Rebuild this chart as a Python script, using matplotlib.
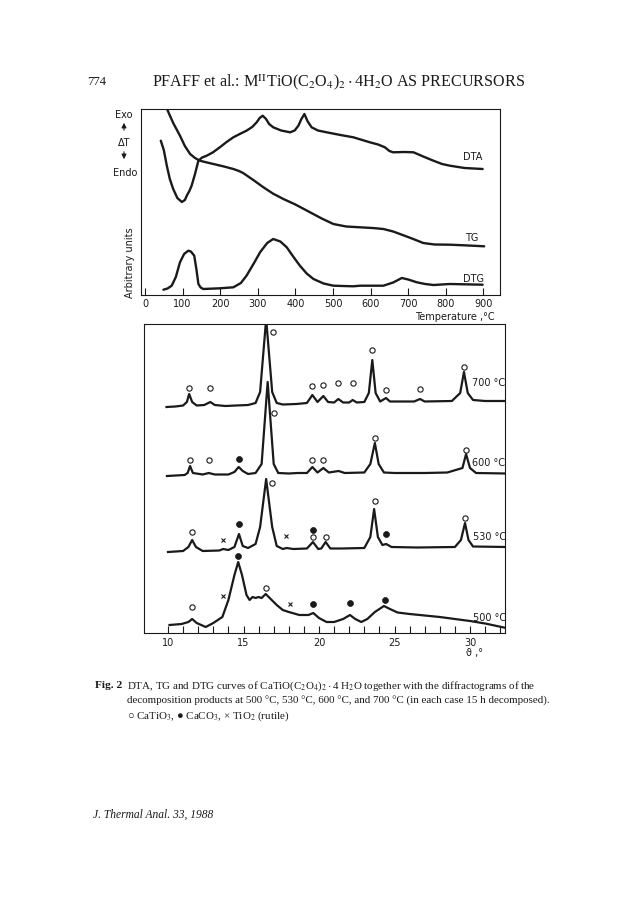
import matplotlib
matplotlib.use("Agg")
import matplotlib.pyplot as plt
import numpy as np

plt.rcParams['mathtext.fontset'] = 'stix'
SERIF = ['Liberation Serif', 'DejaVu Serif']
SANS = ['DejaVu Sans']
INK = '#1a1a1a'

# ---------------- thermal analysis data (T in degC, arbitrary units) -------------
dta_T = [42, 50, 58, 66, 75, 86, 98, 106, 112, 118, 124, 133, 142, 152, 164, 180, 199, 217, 235,
         252, 270, 285, 297, 305, 313, 322, 330, 341, 362, 386, 398, 408, 416, 424, 432, 443, 460,
         483, 520, 554, 598, 620, 638, 650, 660, 690, 714, 740, 767, 790, 811, 850, 898]
dta_y = [154.3, 145, 129.3, 116, 106, 97, 93, 95, 100, 104, 109.3, 121, 134.3, 137.5, 139.3, 142.5,
         147.7, 153, 157.7, 161, 164.3, 168, 172.7, 177, 179.3, 176, 171, 167.7, 164.5, 162.7, 164.5,
         169.3, 176, 181, 174, 167.7, 164.5, 162.7, 160, 157.7, 152.7, 150.5, 147.7, 144, 142.7, 143,
         142.7, 138.5, 134.3, 131, 129.3, 127, 126]

tg_T = [55, 62, 75, 93, 106, 120, 133, 146, 165, 182, 210, 235, 250, 261, 288, 315, 340, 368, 400,
        439, 470, 501, 535, 572, 605, 634, 660, 678, 710, 740, 770, 811, 860, 902]
tg_y = [190, 183, 172, 159.3, 149, 141, 137, 134.3, 132.5, 131, 128.5, 126, 124, 122, 115, 107.7,
        101.5, 96, 90.5, 82.7, 76.5, 71, 68.5, 67.7, 67, 66, 63.5, 61, 56.5, 52, 50.5, 50.3, 49.5, 48.7]

dtg_T = [49, 60, 71, 82, 93, 104, 115, 122, 131, 137, 142, 148, 155, 199, 235, 255, 270, 290, 306,
         325, 341, 360, 377, 395, 412, 430, 448, 475, 501, 554, 572, 634, 660, 683, 700, 723, 745,
         767, 811, 898]
dtg_y = [5.3, 6.5, 9.3, 18, 32.7, 41, 44.3, 43.5, 39.3, 25, 11, 7.5, 6, 6.7, 7.7, 12, 19.3, 32, 42.7,
         52, 56, 53.5, 47.7, 38, 29.3, 21.5, 16, 11.5, 9.3, 8.7, 9.3, 9.3, 12.5, 17, 15.5, 12.7, 11,
         10, 11, 10.3]

temp_ticks = [0, 100, 200, 300, 400, 500, 600, 700, 800, 900]

# ---------------- X-ray diffractograms (theta in deg, intensity above baseline) ----
x700_th = [9.9, 10.5, 11.0, 11.25, 11.4, 11.6, 11.9, 12.4, 12.8, 13.1, 13.8, 14.5, 15.3, 15.8,
           16.1, 16.5, 16.9, 17.2, 17.6, 18.5, 19.2, 19.56, 19.9, 20.29, 20.6, 21.0, 21.28, 21.6,
           22.0, 22.23, 22.5, 23.0, 23.3, 23.53, 23.75, 24.05, 24.44, 24.7, 26.3, 26.69, 27.0, 28.8,
           29.35, 29.6, 29.85, 30.2, 31.0, 32.4]
x700_in = [0, 0.5, 1.5, 5, 13, 5, 1.5, 2, 5, 2, 1, 1.5, 2, 4, 15, 88, 15, 4, 2.5, 3, 4, 12, 5, 11,
           5, 4.5, 8, 4.5, 4.5, 7, 4.5, 5, 14, 47, 14, 5.5, 9, 5.5, 5.5, 8, 5.5, 6, 14, 35, 14, 7, 6, 6]
m700 = [(11.4, 19, 'o'), (12.8, 19, 'o'), (16.98, 75, 'o'), (19.56, 21, 'o'), (20.29, 22, 'o'),
        (21.28, 24, 'o'), (22.23, 24, 'o'), (23.53, 57, 'o'), (24.44, 17, 'o'), (26.69, 18, 'o'),
        (29.6, 40, 'o')]

x600_th = [9.93, 11.1, 11.3, 11.46, 11.65, 12.3, 12.7, 13.1, 14.0, 14.4, 14.68, 14.95, 15.3, 15.8,
           16.2, 16.6, 17.0, 17.3, 18.0, 18.6, 19.2, 19.56, 19.9, 20.29, 20.65, 21.3, 21.7, 23.0,
           23.4, 23.7, 23.95, 24.3, 25.0, 27.0, 28.5, 29.5, 29.74, 30.0, 30.4, 32.4]
x600_in = [0, 1, 3, 10, 3, 1.5, 3, 1.5, 1.5, 4, 9, 5, 2, 3, 12, 94, 12, 3, 2.5, 3, 3, 9, 3.5, 8,
           3.5, 5, 3, 3.5, 12, 33, 12, 3.5, 3, 3, 3.5, 8, 22, 8, 3, 2.5]
m600 = [(11.46, 16, 'o'), (12.7, 16, 'o'), (14.68, 17, 'f'), (17.04, 63, 'o'), (19.56, 16, 'o'),
        (20.29, 16, 'o'), (23.7, 38, 'o'), (29.74, 26, 'o')]

x530_th = [10.0, 11.0, 11.35, 11.6, 11.85, 12.3, 13.4, 13.65, 14.0, 14.4, 14.7, 14.95, 15.3, 15.8,
           16.1, 16.5, 16.9, 17.2, 17.6, 17.85, 18.3, 19.2, 19.6, 19.95, 20.15, 20.44, 20.75, 21.5,
           23.0, 23.4, 23.65, 23.9, 24.2, 24.45, 24.8, 26.5, 29.0, 29.4, 29.67, 29.9, 30.2, 32.4]
x530_in = [0, 1, 5, 12, 5, 1, 1.5, 3, 2, 5, 18, 6, 4, 8, 25, 73, 25, 6, 3, 4, 3, 3.5, 10, 3, 3.5,
           10, 3.5, 3.5, 4, 15, 43, 15, 7, 8, 5, 4.5, 5, 12, 29, 12, 5.5, 5]
m530 = [(11.6, 20, 'o'), (13.66, 12, 'x'), (14.7, 28, 'f'), (16.9, 69, 'o'), (17.8, 16, 'x'),
        (19.6, 22, 'f'), (19.6, 15, 'o'), (20.44, 15, 'o'), (23.7, 51, 'o'), (24.44, 18, 'f'),
        (29.67, 34, 'o')]

x500_th = [10.1, 10.9, 11.35, 11.6, 11.9, 12.5, 13.0, 13.2, 13.6, 14.0, 14.4, 14.65, 14.9, 15.2,
           15.4, 15.6, 15.8, 16.0, 16.2, 16.47, 16.8, 17.2, 17.6, 18.0, 18.7, 19.3, 19.62, 20.0,
           20.5, 21.0, 21.6, 22.05, 22.4, 22.8, 23.2, 23.7, 24.3, 24.7, 25.2, 26.0, 27.0, 28.0,
           29.0, 30.0, 31.0, 32.4]
x500_in = [0, 1, 3, 6, 2, -2, 2, 4, 8, 25, 50, 63, 50, 30, 25, 28, 27, 28, 27, 31, 26, 20, 15, 13,
           10, 10, 12, 7, 3, 3, 6, 10, 6, 3, 6, 13, 19, 16, 12.5, 11, 9.5, 8, 6, 4, 1.5, -3]
m500 = [(11.6, 18, 'o'), (13.66, 29, 'x'), (14.66, 69, 'f'), (16.47, 37, 'o'), (18.08, 21, 'x'),
        (19.62, 21, 'f'), (22.05, 22, 'f'), (24.37, 25, 'f')]

theta_major = [10, 15, 20, 25, 30]
theta_minor = list(range(10, 33))

# ------------------------------------------------------------------------------------
W, H = 643, 903
fig = plt.figure(figsize=(W / 100, H / 100), dpi=100)
fig.patch.set_facecolor('white')


def fx(x):
    return x / W


def fy(y):
    return 1 - y / H


def axes_px(left, top, right, bottom):
    return fig.add_axes([fx(left), fy(bottom), (right - left) / W, (bottom - top) / H])


# header
fig.text(fx(97), fy(82), "774", family=SERIF, fontsize=9, ha='center', va='center', color=INK)
fig.text(fx(339), fy(82),
         r"PFAFF et al.: M$^{\mathrm{II}}$TiO(C$_2$O$_4$)$_2\cdot$4H$_2$O AS PRECURSORS",
         family=SERIF, fontsize=11.6, ha='center', va='center', color=INK)

# ---------------- top panel ----------------
ax1 = axes_px(141, 110, 500, 296)
ax1.plot(dta_T, dta_y, color=INK, lw=1.7, solid_capstyle='round')
ax1.plot(tg_T, tg_y, color=INK, lw=1.7, solid_capstyle='round')
ax1.plot(dtg_T, dtg_y, color=INK, lw=1.7, solid_capstyle='round')
ax1.set_xlim((141 - 145) / 0.376, (500 - 145) / 0.376)
ax1.set_ylim(0, 186)
ax1.set_xticks(temp_ticks)
ax1.set_xticklabels([str(t) for t in temp_ticks])
ax1.set_yticks([])
ax1.tick_params(axis='x', direction='in', length=5, width=0.8, pad=2, labelsize=7,
                colors=INK)
for s in ax1.spines.values():
    s.set_linewidth(0.8)
    s.set_color(INK)
ax1.text(846, 296 - 157, "DTA", fontsize=7, family=SANS, va='center', ha='left', color=INK)
ax1.text(851, 296 - 238, "TG", fontsize=7, family=SANS, va='center', ha='left', color=INK)
ax1.text(846, 296 - 279, "DTG", fontsize=7, family=SANS, va='center', ha='left', color=INK)

fig.text(fx(455), fy(317), "Temperature ,°C", fontsize=7, family=SANS, ha='center', va='center',
         color=INK)
fig.text(fx(130), fy(263), "Arbitrary units", fontsize=7, family=SANS, ha='center', va='center',
         rotation=90, color=INK)
fig.text(fx(124), fy(115.5), "Exo", fontsize=7, family=SANS, ha='center', va='center', color=INK)
fig.text(fx(124), fy(143), "ΔT", fontsize=7, family=SANS, ha='center', va='center', color=INK)
fig.text(fx(125), fy(173), "Endo", fontsize=7, family=SANS, ha='center', va='center', color=INK)
fig.add_artist(matplotlib.patches.FancyArrowPatch((fx(124), fy(134)), (fx(124), fy(121)),
                                                  transform=fig.transFigure, arrowstyle='-|>',
                                                  mutation_scale=7, lw=0.8, color=INK))
fig.add_artist(matplotlib.patches.FancyArrowPatch((fx(124), fy(150)), (fx(124), fy(163)),
                                                  transform=fig.transFigure, arrowstyle='-|>',
                                                  mutation_scale=7, lw=0.8, color=INK))

# ---------------- XRD panel ----------------
ax2 = axes_px(144, 325, 505, 634)
ax2.set_xlim(10 + (144 - 168) / 15.1, 10 + (505 - 168) / 15.1)
ax2.set_ylim(0, 309)
offsets = {'700': 226, '600': 157, '530': 81, '500': 8}
traces = [('700', x700_th, x700_in, m700), ('600', x600_th, x600_in, m600),
          ('530', x530_th, x530_in, m530), ('500', x500_th, x500_in, m500)]
for key, th, inten, marks in traces:
    off = offsets[key]
    ax2.plot(th, np.array(inten) + off, color=INK, lw=1.6, solid_joinstyle='round')
    for t, h, kind in marks:
        if kind == 'o':
            ax2.plot(t, h + off, marker='o', ms=3.8, mfc='white', mec=INK, mew=0.8, ls='none')
        elif kind == 'f':
            ax2.plot(t, h + off, marker='o', ms=4.3, mfc=INK, mec=INK, mew=0.5, ls='none')
        else:
            ax2.plot(t, h + off, marker='x', ms=3.2, mec=INK, mew=0.8, ls='none')

ax2.set_xticks(theta_major)
ax2.set_xticklabels([str(t) for t in theta_major])
ax2.set_xticks(theta_minor, minor=True)
ax2.set_yticks([])
ax2.tick_params(axis='x', which='both', direction='in', length=5, width=0.8, pad=3, labelsize=7,
                colors=INK)
for s in ax2.spines.values():
    s.set_linewidth(0.8)
    s.set_color(INK)

fig.text(fx(472), fy(383), "700 °C", fontsize=7, family=SANS, ha='left', va='center', color=INK)
fig.text(fx(472), fy(463), "600 °C", fontsize=7, family=SANS, ha='left', va='center', color=INK)
fig.text(fx(473), fy(537), "530 °C", fontsize=7, family=SANS, ha='left', va='center', color=INK)
fig.text(fx(473), fy(618), "500 °C", fontsize=7, family=SANS, ha='left', va='center', color=INK)
fig.text(fx(475), fy(653), "ϑ ,°", fontsize=7, family=SANS, ha='center', va='center', color=INK)

# ---------------- caption ----------------
CAP = 7.9
fig.text(fx(95), fy(686), "Fig. 2", family=SERIF, fontsize=CAP + 0.3, fontweight='bold', ha='left',
         va='center', color=INK)
fig.text(fx(127), fy(686),
         r"DTA, TG and DTG curves of CaTiO(C$_2$O$_4$)$_2\cdot$4 H$_2$O together with the "
         r"diffractograms of the", family=SERIF, fontsize=CAP, ha='left', va='center', color=INK)
fig.text(fx(127), fy(701),
         "decomposition products at 500 °C, 530 °C, 600 °C, and 700 °C (in each case 15 h decomposed).",
         family=SERIF, fontsize=CAP, ha='left', va='center', color=INK)
fig.text(fx(127), fy(716),
         r"○ CaTiO$_3$, ● CaCO$_3$, × TiO$_2$ (rutile)",
         family=SERIF, fontsize=CAP, ha='left', va='center', color=INK)

fig.text(fx(93), fy(815), "J. Thermal Anal. 33, 1988", family=SERIF, fontsize=8.3, style='italic',
         ha='left', va='center', color=INK)

fig.savefig("out.png", dpi=100, facecolor='white')
